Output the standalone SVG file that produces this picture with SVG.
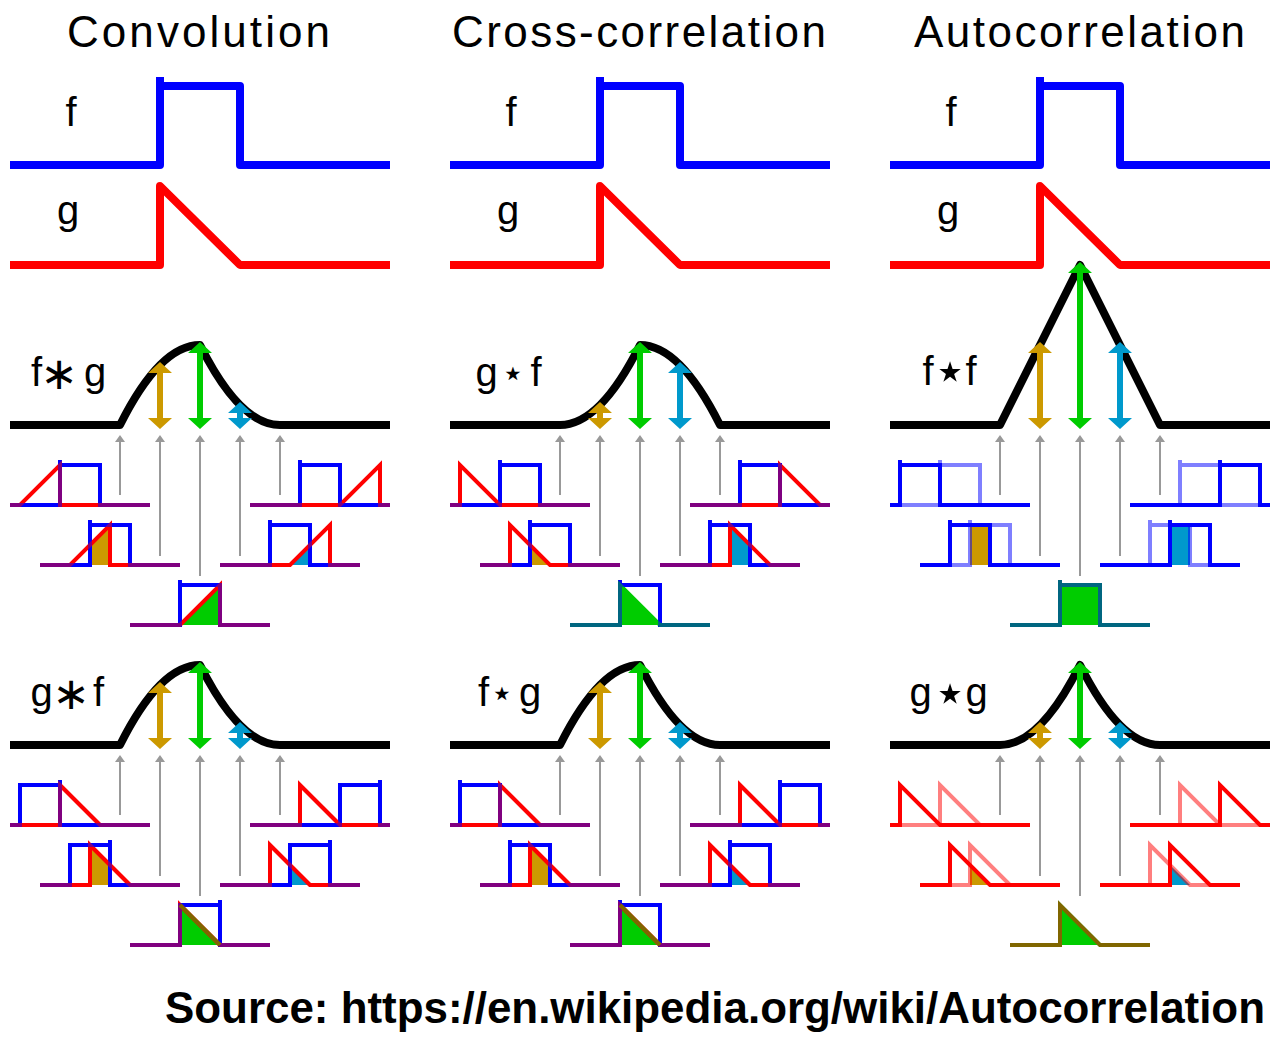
<svg xmlns="http://www.w3.org/2000/svg" width="1284" height="1044" viewBox="0 0 1284 1044">
<style>
text{font-family:"Liberation Sans",Arial,sans-serif;fill:#000}
.t{font-size:44px}
.l{font-size:40px;text-anchor:middle}
.op{font-family:"DejaVu Sans",sans-serif;text-anchor:middle}
.st{font-size:38px}
.st2{font-size:56px}
.as{font-size:45px}
.src{font-size:44px;font-weight:bold}
.w{fill:none;stroke-width:8;stroke-linejoin:round}
.k{stroke:#000}
.sp{stroke-width:4}
.b{stroke:#0000ff}
.r{stroke:#ff0000}
.gr{stroke:#00cc00}
.h{stroke-opacity:.5}
.ol{stroke:#806600;fill:none}
.fa{fill:#cc9900}
.fg{fill:#00cc00}
.fb{fill:#0099cc}
.gy{stroke:#999;stroke-width:2;fill:none}
</style>
<defs>
<clipPath id="pc"><rect x="0" y="-60" width="140" height="75"/></clipPath>
<path id="BL" fill="none" d="M-200,0H0V-45M0,-40H40V0H200"/>
<path id="BR" fill="none" d="M-200,0H0V-40H40V-45M40,-40V0H200"/>
<path id="RG" fill="none" d="M-200,0H0V-40L40,0H200"/>
<path id="RF" fill="none" d="M-200,0H0L40,-40V0H200"/>
<path id="gh" d="M0,0l-5,7h10z" fill="#999" stroke="none"/>
<g id="ga">
<path class="gy" d="M120,495V441M160,556V441M200,576V441M240,556V441M280,495V441"/>
<use href="#gh" x="120" y="435"/><use href="#gh" x="160" y="435"/><use href="#gh" x="200" y="435"/><use href="#gh" x="240" y="435"/><use href="#gh" x="280" y="435"/>
</g>
<g id="fgw">
<path class="w" stroke="#0000ff" d="M10,165H160V77M160,86H240V165H390"/>
<path class="w" stroke="#ff0000" d="M10,265H160V186L240,265H390"/>
<text class="l" x="71" y="126">f</text>
<text class="l" x="68" y="224">g</text>
</g>
</defs>

<g id="titles">
<text class="t" x="67" y="47" textLength="263" lengthAdjust="spacing">Convolution</text>
<text class="t" x="452" y="47" textLength="374" lengthAdjust="spacing">Cross-correlation</text>
<text class="t" x="914" y="47" textLength="331" lengthAdjust="spacing">Autocorrelation</text>
</g>

<g id="inputs">
<use id="inputs-conv" href="#fgw"/>
<use id="inputs-xcorr" href="#fgw" x="440"/>
<use id="inputs-acorr" href="#fgw" x="880"/>
</g>

<g id="connectors">
<use href="#ga"/><use href="#ga" y="320"/>
<use href="#ga" x="440"/><use href="#ga" x="440" y="320"/>
<use href="#ga" x="880"/><use href="#ga" x="880" y="320"/>
</g>

<!-- Convolution f*g -->
<g id="conv-fg">
<path class="w k" d="M10,425H120Q160,345 200,345Q240,425 280,425H390"/>
<path class="fa" d="M160,362L172,373H163V418H172L160,429L148,418H157V373H148Z"/>
<path class="fg" d="M200,342L212,353H203V418H212L200,429L188,418H197V353H188Z"/>
<path class="fb" d="M240,402L252,413H243V418H252L240,429L228,418H237V413H228Z"/>
<text class="l" x="36.5" y="386">f</text><text class="op as" x="59" y="389">∗</text><text class="l" x="95" y="386">g</text>
<g class="sp">
<g transform="translate(10,505)" clip-path="url(#pc)"><use href="#BL" x="50" class="b"/><use href="#RF" x="10" class="r"/><use href="#BL" x="50" class="b h"/></g>
<g transform="translate(40,565)" clip-path="url(#pc)"><path class="fa" d="M50,0V-20L70,-40V0Z"/><use href="#BL" x="50" class="b"/><use href="#RF" x="30" class="r"/><use href="#BL" x="50" class="b h"/></g>
<g transform="translate(130,625)" clip-path="url(#pc)"><path class="fg" d="M50,0L90,-40V0Z"/><use href="#BL" x="50" class="b"/><use href="#RF" x="50" class="r"/><use href="#BL" x="50" class="b h"/></g>
<g transform="translate(220,565)" clip-path="url(#pc)"><path class="fb" d="M70,0L90,-20V0Z"/><use href="#BL" x="50" class="b"/><use href="#RF" x="70" class="r"/><use href="#BL" x="50" class="b h"/></g>
<g transform="translate(250,505)" clip-path="url(#pc)"><use href="#BL" x="50" class="b"/><use href="#RF" x="90" class="r"/><use href="#BL" x="50" class="b h"/></g>
</g>
</g>

<!-- Convolution g*f -->
<g id="conv-gf" transform="translate(0,320)">
<path class="w k" d="M10,425H120Q160,345 200,345Q240,425 280,425H390"/>
<path class="fa" d="M160,362L172,373H163V418H172L160,429L148,418H157V373H148Z"/>
<path class="fg" d="M200,342L212,353H203V418H212L200,429L188,418H197V353H188Z"/>
<path class="fb" d="M240,402L252,413H243V418H252L240,429L228,418H237V413H228Z"/>
<text class="l" x="41.5" y="386">g</text><text class="op as" x="71" y="389">∗</text><text class="l" x="98.5" y="386">f</text>
<g class="sp">
<g transform="translate(10,505)" clip-path="url(#pc)"><use href="#RG" x="50" class="r"/><use href="#BR" x="10" class="b"/><use href="#RG" x="50" class="r h"/></g>
<g transform="translate(40,565)" clip-path="url(#pc)"><path class="fa" d="M50,0V-40L70,-20V0Z"/><use href="#RG" x="50" class="r"/><use href="#BR" x="30" class="b"/><use href="#RG" x="50" class="r h"/></g>
<g transform="translate(130,625)" clip-path="url(#pc)"><path class="fg" d="M50,0V-40L90,0Z"/><use href="#RG" x="50" class="r"/><use href="#BR" x="50" class="b"/><use href="#RG" x="50" class="r h"/><path class="ol" d="M50,-40L90,0"/></g>
<g transform="translate(220,565)" clip-path="url(#pc)"><path class="fb" d="M70,0V-20L90,0Z"/><use href="#RG" x="50" class="r"/><use href="#BR" x="70" class="b"/><use href="#RG" x="50" class="r h"/></g>
<g transform="translate(250,505)" clip-path="url(#pc)"><use href="#RG" x="50" class="r"/><use href="#BR" x="90" class="b"/><use href="#RG" x="50" class="r h"/></g>
</g>
</g>

<!-- Cross-correlation g*f -->
<g id="xcorr-gf" transform="translate(440,0)">
<path class="w k" d="M10,425H120Q160,425 200,345Q240,345 280,425H390"/>
<path class="fa" d="M160,402L172,413H163V418H172L160,429L148,418H157V413H148Z"/>
<path class="fg" d="M200,342L212,353H203V418H212L200,429L188,418H197V353H188Z"/>
<path class="fb" d="M240,362L252,373H243V418H252L240,429L228,418H237V373H228Z"/>
<text class="l" x="46.5" y="386">g</text><text class="op st" x="73" y="386">⋆</text><text class="l" x="96" y="386">f</text>
<g class="sp">
<g transform="translate(10,505)" clip-path="url(#pc)"><use href="#BL" x="50" class="b"/><use href="#RG" x="10" class="r"/><use href="#BL" x="50" class="b h"/></g>
<g transform="translate(40,565)" clip-path="url(#pc)"><path class="fa" d="M50,0V-20L70,0Z"/><use href="#BL" x="50" class="b"/><use href="#RG" x="30" class="r"/><use href="#BL" x="50" class="b h"/></g>
<g transform="translate(130,625)" clip-path="url(#pc)"><path class="fg" d="M50,0V-40L90,0Z"/><use href="#BL" x="50" class="b"/><use href="#RG" x="50" class="gr"/><use href="#BL" x="50" class="b h"/></g>
<g transform="translate(220,565)" clip-path="url(#pc)"><path class="fb" d="M70,0V-40L90,-20V0Z"/><use href="#BL" x="50" class="b"/><use href="#RG" x="70" class="r"/><use href="#BL" x="50" class="b h"/></g>
<g transform="translate(250,505)" clip-path="url(#pc)"><use href="#BL" x="50" class="b"/><use href="#RG" x="90" class="r"/><use href="#BL" x="50" class="b h"/></g>
</g>
</g>

<!-- Cross-correlation f*g -->
<g id="xcorr-fg" transform="translate(440,320)">
<path class="w k" d="M10,425H120Q160,345 200,345Q240,425 280,425H390"/>
<path class="fa" d="M160,362L172,373H163V418H172L160,429L148,418H157V373H148Z"/>
<path class="fg" d="M200,342L212,353H203V418H212L200,429L188,418H197V353H188Z"/>
<path class="fb" d="M240,402L252,413H243V418H252L240,429L228,418H237V413H228Z"/>
<text class="l" x="43.5" y="386">f</text><text class="op st" x="62" y="386">⋆</text><text class="l" x="90" y="386">g</text>
<g class="sp">
<g transform="translate(10,505)" clip-path="url(#pc)"><use href="#RG" x="50" class="r"/><use href="#BL" x="10" class="b"/><use href="#RG" x="50" class="r h"/></g>
<g transform="translate(40,565)" clip-path="url(#pc)"><path class="fa" d="M50,0V-40L70,-20V0Z"/><use href="#RG" x="50" class="r"/><use href="#BL" x="30" class="b"/><use href="#RG" x="50" class="r h"/></g>
<g transform="translate(130,625)" clip-path="url(#pc)"><path class="fg" d="M50,0V-40L90,0Z"/><use href="#RG" x="50" class="r"/><use href="#BL" x="50" class="b"/><use href="#RG" x="50" class="r h"/><path class="ol" d="M50,-40L90,0"/></g>
<g transform="translate(220,565)" clip-path="url(#pc)"><path class="fb" d="M70,0V-20L90,0Z"/><use href="#RG" x="50" class="r"/><use href="#BL" x="70" class="b"/><use href="#RG" x="50" class="r h"/></g>
<g transform="translate(250,505)" clip-path="url(#pc)"><use href="#RG" x="50" class="r"/><use href="#BL" x="90" class="b"/><use href="#RG" x="50" class="r h"/></g>
</g>
</g>

<!-- Autocorrelation f*f -->
<g id="acorr-ff" transform="translate(880,0)">
<path class="w k" d="M10,425H120L200,265L280,425H390"/>
<path class="fa" d="M160,342L172,353H163V418H172L160,429L148,418H157V353H148Z"/>
<path class="fg" d="M200,262L212,273H203V418H212L200,429L188,418H197V273H188Z"/>
<path class="fb" d="M240,342L252,353H243V418H252L240,429L228,418H237V353H228Z"/>
<text class="l" x="48" y="385">f</text><text class="op st2" x="70" y="390">⋆</text><text class="l" x="91" y="385">f</text>
<g class="sp">
<g transform="translate(10,505)" clip-path="url(#pc)"><use href="#BL" x="10" class="b"/><use href="#BL" x="50" class="b h"/></g>
<g transform="translate(40,565)" clip-path="url(#pc)"><path class="fa" d="M50,0V-40H70V0Z"/><use href="#BL" x="30" class="b"/><use href="#BL" x="50" class="b h"/></g>
<g transform="translate(130,625)" clip-path="url(#pc)"><path class="fg" d="M50,0V-40H90V0Z"/><use href="#BL" x="50" class="gr"/><use href="#BL" x="50" class="b h"/></g>
<g transform="translate(220,565)" clip-path="url(#pc)"><path class="fb" d="M70,0V-40H90V0Z"/><use href="#BL" x="70" class="b"/><use href="#BL" x="50" class="b h"/></g>
<g transform="translate(250,505)" clip-path="url(#pc)"><use href="#BL" x="90" class="b"/><use href="#BL" x="50" class="b h"/></g>
</g>
</g>

<!-- Autocorrelation g*g -->
<g id="acorr-gg" transform="translate(880,320)">
<path class="w k" d="M10,425H120Q160,425 200,345Q240,425 280,425H390"/>
<path class="fa" d="M160,402L172,413H163V418H172L160,429L148,418H157V413H148Z"/>
<path class="fg" d="M200,342L212,353H203V418H212L200,429L188,418H197V353H188Z"/>
<path class="fb" d="M240,402L252,413H243V418H252L240,429L228,418H237V413H228Z"/>
<text class="l" x="40.5" y="386">g</text><text class="op st2" x="70" y="392">⋆</text><text class="l" x="96.5" y="386">g</text>
<g class="sp">
<g transform="translate(10,505)" clip-path="url(#pc)"><use href="#RG" x="10" class="r"/><use href="#RG" x="50" class="r h"/></g>
<g transform="translate(40,565)" clip-path="url(#pc)"><path class="fa" d="M50,0V-20L70,0Z"/><use href="#RG" x="30" class="r"/><use href="#RG" x="50" class="r h"/></g>
<g transform="translate(130,625)" clip-path="url(#pc)"><path class="fg" d="M50,0V-40L90,0Z"/><use href="#RG" x="50" class="gr"/><use href="#RG" x="50" class="r h"/></g>
<g transform="translate(220,565)" clip-path="url(#pc)"><path class="fb" d="M70,0V-20L90,0Z"/><use href="#RG" x="70" class="r"/><use href="#RG" x="50" class="r h"/></g>
<g transform="translate(250,505)" clip-path="url(#pc)"><use href="#RG" x="90" class="r"/><use href="#RG" x="50" class="r h"/></g>
</g>
</g>

<text id="source" class="src" x="165" y="1023" textLength="1100" lengthAdjust="spacingAndGlyphs">Source: https://en.wikipedia.org/wiki/Autocorrelation</text>
</svg>
